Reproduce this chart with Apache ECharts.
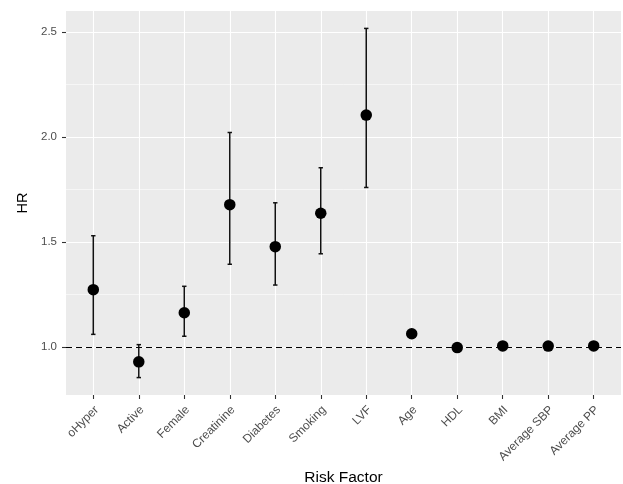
<!DOCTYPE html>
<html><head><meta charset="utf-8">
<script src="https://cdn.jsdelivr.net/npm/echarts@6/dist/echarts.min.js"></script>
<style>html,body{margin:0;padding:0;background:#fff}#c{width:623px;height:484px}</style>
</head><body><div id="c"></div>
<script>
const categories = ['oHyper','Active','Female','Creatinine','Diabetes','Smoking','LVF','Age','HDL','BMI','Average SBP','Average PP'];
const hr    = [1.273,0.929,1.163,1.678,1.478,1.637,2.105,1.063,0.997,1.005,1.004,1.005];
const lower = [1.060,0.854,1.051,1.394,1.295,1.444,1.760,1.055,0.993,1.001,1.001,1.002];
const upper = [1.530,1.011,1.289,2.022,1.687,1.854,2.518,1.071,1.001,1.009,1.007,1.008];
const yMajor = [1.0,1.5,2.0,2.5];
const yMinor = [1.25,1.75,2.25];
const refLine = 1.0;
const yMin = 0.771, yMax = 2.601;

const xIdx = categories.map((c,i)=>i);
const labelShift = 0.075; // small nudge so rotated labels hang like ggplot's hjust=1
const xLabelPos = xIdx.map(i=>i+labelShift);
const pts = hr.map((v,i)=>[i,v]);
const bars = lower.map((l,i)=>[i,l,upper[i]]);

const chart = echarts.init(document.getElementById('c'));
const FONT = 'Liberation Sans, Arial, sans-serif';
chart.setOption({
  animation:false,
  grid:{left:66,top:11,right:2,bottom:89,show:true,backgroundColor:'#EBEBEB',borderWidth:0,
    containLabel:false,outerBoundsMode:'none'},
  xAxis:{
    type:'value',min:-0.6,max:11.6,
    name:'Risk Factor',nameLocation:'middle',nameGap:73,
    nameTextStyle:{fontFamily:FONT,fontSize:15.5,color:'#000'},
    axisLine:{show:false,onZero:false},
    axisTick:{show:true,customValues:xIdx,length:4,lineStyle:{color:'#333',width:1.1}},
    axisLabel:{customValues:xLabelPos,rotate:45,margin:13,fontFamily:FONT,fontSize:12,color:'#4D4D4D',
      formatter:v=>categories[Math.round(v)]},
    splitLine:{show:true,lineStyle:{color:'#fff',width:1.1}}
  },
  yAxis:[{
    type:'value',min:yMin,max:yMax,position:'left',
    name:'HR',nameLocation:'middle',nameGap:36,nameRotate:90,
    nameTextStyle:{fontFamily:FONT,fontSize:14.5,color:'#000'},
    axisLine:{show:false,onZero:false},
    axisTick:{show:true,customValues:yMajor,length:4,lineStyle:{color:'#333',width:1.1}},
    axisLabel:{customValues:yMajor,margin:9,fontFamily:FONT,fontSize:11.5,color:'#4D4D4D',
      formatter:v=>v.toFixed(1)},
    splitLine:{show:true,lineStyle:{color:'#fff',width:1.1}}
  },{
    type:'value',min:yMin,max:yMax,position:'left',
    axisLine:{show:false,onZero:false},
    axisTick:{show:false,customValues:yMinor},
    axisLabel:{show:false,customValues:yMinor},
    splitLine:{show:true,lineStyle:{color:'#fff',width:0.55}}
  }],
  series:[{
    type:'line',data:[],z:1,
    markLine:{silent:true,symbol:'none',label:{show:false},
      lineStyle:{color:'#000',type:[6,4],width:1.1},
      data:[{yAxis:refLine}]}
  },{
    type:'custom',z:2,data:bars,
    renderItem:(params,api)=>{
      const x=api.value(0);
      const a=api.coord([x,api.value(1)]);
      const b=api.coord([x,api.value(2)]);
      const w=2.2;
      const st={stroke:'#111',lineWidth:1.5};
      return {type:'group',children:[
        {type:'line',shape:{x1:a[0],y1:a[1],x2:b[0],y2:b[1]},style:st},
        {type:'line',shape:{x1:a[0]-w,y1:a[1],x2:a[0]+w,y2:a[1]},style:st},
        {type:'line',shape:{x1:b[0]-w,y1:b[1],x2:b[0]+w,y2:b[1]},style:st}
      ]};
    }
  },{
    type:'scatter',z:3,data:pts,symbol:'circle',symbolSize:11.5,
    itemStyle:{color:'#000',opacity:1}
  }]
});
</script></body></html>
